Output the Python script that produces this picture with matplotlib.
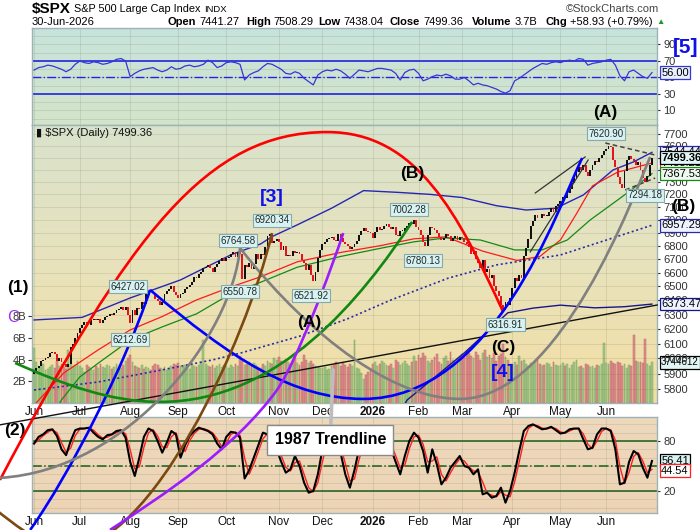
import numpy as np
import pandas as pd
import matplotlib
matplotlib.use("Agg")
import matplotlib.pyplot as plt
from matplotlib.path import Path
from matplotlib.patches import PathPatch
from matplotlib.ticker import FixedLocator, NullLocator
from matplotlib.transforms import blended_transform_factory as blend

plt.rcParams['font.family'] = ['Liberation Sans', 'DejaVu Sans']

# ---------------- data ----------------
holidays = ['2025-06-19', '2025-07-04', '2025-09-01', '2025-11-27', '2025-12-25',
            '2026-01-01', '2026-01-19', '2026-02-16', '2026-04-03', '2026-05-25',
            '2026-06-19']
days = pd.bdate_range('2025-06-02', '2026-06-30', freq='C', holidays=holidays)

first_open = 5896.0
jun25 = [5911, 5935, 5950, 5985, 5990, 6000, 6010, 6035, 6040, 6030, 5985, 6005, 5975, 5960,
         5945, 5965, 6080, 6095, 6140, 6175]
jul25 = [6205, 6227, 6250, 6230, 6225, 6263, 6270, 6259, 6268, 6244, 6263, 6280, 6290, 6305,
         6296, 6309, 6330, 6340, 6355, 6330, 6350, 6300]
aug25 = [6238, 6329, 6299, 6345, 6340, 6389, 6373, 6445, 6466, 6458, 6449, 6411, 6395, 6370,
         6388, 6446, 6466, 6481, 6502, 6460, 6440]
sep25 = [6415, 6448, 6452, 6481, 6495, 6512, 6532, 6570, 6560, 6590, 6606, 6631, 6640, 6656,
         6637, 6604, 6643, 6661, 6688, 6711, 6688]
oct25 = [6711, 6715, 6740, 6753, 6714, 6753, 6735, 6552, 6654, 6644, 6671, 6629, 6664, 6735,
         6699, 6738, 6734, 6791, 6875, 6890, 6822, 6840, 6851]
nov25 = [6832, 6771, 6796, 6720, 6728, 6720, 6760, 6746, 6750, 6737, 6690, 6672, 6617, 6656,
         6580, 6538, 6602, 6705, 6765]
dec25 = [6812, 6829, 6849, 6857, 6870, 6846, 6840, 6886, 6860, 6827, 6816, 6800, 6775, 6790,
         6810, 6834, 6880, 6909, 6932, 6910, 6905, 6896]
jan26 = [6858, 6902, 6944, 6920, 6930, 6950, 6963, 6944, 6927, 6940, 6880, 6875, 6913, 6916,
         6933, 6950, 6978, 6969, 6995, 6940]
feb26 = [6918, 6880, 6830, 6798, 6883, 6941, 6932, 6920, 6896, 6870, 6843, 6861, 6890, 6876,
         6838, 6858, 6878, 6846, 6870]
mar26 = [6860, 6830, 6816, 6790, 6740, 6760, 6700, 6672, 6632, 6690, 6606, 6625, 6560, 6581,
         6500, 6470, 6430, 6369, 6335, 6390, 6368, 6420]
apr26 = [6490, 6560, 6540, 6580, 6560, 6720, 6780, 6850, 6950, 6990, 7040, 7016, 7010, 7041,
         7030, 7032, 7064, 7090, 7061, 7110, 7120]
may26 = [7150, 7180, 7170, 7210, 7240, 7290, 7330, 7380, 7420, 7400, 7440, 7380, 7350, 7400,
         7440, 7470, 7460, 7500, 7520, 7555]
jun26 = [7570, 7600, 7590, 7480, 7420, 7340, 7280, 7250, 7390, 7480, 7510, 7490, 7470, 7440,
         7460, 7400, 7330, 7300, 7350, 7441, 7499.36]

# volume in billions
vol_jun25 = [5.1, 3.8, 3.2, 3.4, 3.6, 3.0, 3.1, 3.3, 3.5, 3.2, 3.9, 3.4, 3.6, 3.3, 3.1, 4.9, 3.6, 3.3, 3.5, 3.9]
vol_jul25 = [3.4, 3.2, 2.9, 3.5, 3.3, 3.1, 3.0, 3.4, 3.2, 3.6, 3.3, 3.2, 3.5, 3.4, 3.1, 3.3, 3.6, 3.4, 3.2, 3.5, 3.9, 4.1]
vol_aug25 = [4.4, 3.8, 3.4, 3.3, 3.2, 3.5, 3.1, 3.3, 3.2, 3.0, 3.4, 3.6, 3.5, 3.2, 3.1, 3.3, 3.0, 3.2, 3.4, 3.6, 3.5]
vol_sep25 = [3.7, 3.4, 3.3, 3.5, 3.2, 3.1, 3.6, 3.4, 3.3, 3.5, 3.8, 5.8, 3.6, 3.4, 3.3, 3.5, 3.2, 3.4, 3.6, 3.3, 3.5]
vol_oct25 = [3.4, 3.2, 3.5, 3.3, 3.6, 3.4, 4.3, 3.9, 3.5, 3.6, 3.8, 3.4, 3.7, 3.5, 3.3, 3.2, 3.6, 3.4, 3.9, 3.7, 3.6, 4.1, 4.0]
vol_nov25 = [4.2, 3.9, 3.7, 4.0, 3.8, 3.6, 3.9, 4.1, 3.7, 3.5, 3.8, 4.4, 4.0, 3.7, 3.9, 3.6, 3.4, 3.3, 3.2]
vol_dec25 = [3.2, 3.3, 3.0, 3.1, 3.4, 3.5, 3.8, 3.6, 3.4, 3.7, 3.5, 3.3, 3.6, 3.4, 5.8, 3.2, 3.1, 2.8, 2.2, 2.6, 2.9, 3.1]
vol_jan26 = [3.6, 3.8, 3.4, 3.6, 3.9, 3.7, 3.5, 3.4, 3.6, 3.2, 4.0, 3.8, 3.5, 3.7, 3.9, 3.6, 3.4, 3.8, 4.3, 3.9]
vol_feb26 = [4.4, 4.1, 4.6, 4.3, 3.9, 3.7, 4.0, 4.2, 4.5, 3.8, 3.6, 4.1, 4.3, 3.9, 4.7, 4.0, 3.8, 4.1, 4.3]
vol_mar26 = [4.5, 4.2, 4.8, 4.6, 4.3, 4.1, 4.7, 4.4, 4.0, 4.6, 4.9, 4.2, 4.4, 4.1, 4.6, 3.9, 4.3, 4.5, 5.4, 4.2, 4.0, 3.6]
vol_apr26 = [3.6, 3.8, 3.5, 4.3, 3.9, 4.0, 3.6, 3.4, 3.7, 3.5, 3.9, 4.1, 3.6, 3.4, 3.5, 3.7, 3.6, 3.3, 3.8, 3.5, 3.4]
vol_may26 = [3.5, 3.7, 3.4, 3.6, 3.2, 3.5, 3.8, 4.0, 3.3, 3.4, 3.2, 3.6, 3.5, 3.3, 3.4, 3.2, 3.5, 3.4, 3.6, 5.5]
vol_jun26 = [3.7, 3.6, 3.9, 3.7, 3.6, 3.8, 3.7, 3.4, 3.6, 3.2, 3.5, 3.4, 6.3, 3.9, 3.8, 3.8, 3.7, 5.9, 3.6, 3.4, 3.744612]

# overlay lines (trading-day index, value)
upper_x = [0, 21, 42, 64, 86, 99, 104, 115, 130, 144, 160, 173, 187, 202, 215, 228, 240, 253, 262, 270]
upper_y = [6262, 6280, 6417, 6547, 6732, 6814, 6870, 6960, 7090, 7230, 7215, 7200, 7175, 7110,
           7076, 7090, 7195, 7398, 7465, 7544.44]
red_x = [0, 1, 13, 28, 42, 56, 71, 86, 99, 115, 134, 151, 166, 180, 196, 211, 221, 230, 237, 244, 255, 270]
red_y = [5690, 5712, 5904, 6057, 6193, 6286, 6403, 6496, 6570, 6680, 6750, 6800, 6853, 6868,
         6760, 6690, 6720, 6844, 7046, 7268, 7380, 7455.21]
green_x = [10, 12, 20, 28, 42, 56, 71, 86, 99, 115, 134, 151, 166, 180, 195, 210, 222, 233, 243, 255, 262, 270]
green_y = [5680, 5730, 5878, 5968, 6124, 6214, 6305, 6447, 6530, 6640, 6720, 6780, 6830, 6860,
           6844, 6769, 6769, 6844, 6998, 7155, 7250, 7367.53]
dot_x = [0, 28, 56, 78, 90, 116, 137, 156, 181, 202, 230, 270]
dot_y = [5793, 5845, 5924, 5990, 6035, 6150, 6270, 6403, 6560, 6657, 6731, 6957.29]
lower_x = [160, 163, 188, 207, 218, 230, 245, 258, 270]
lower_y = [5650, 5729, 6037, 6312, 6345, 6366, 6347, 6355, 6373.47]

# oscillators, every second trading day
osc_step = 2
rsi = [59, 62, 63, 65, 64, 62, 60, 57, 60, 66, 70, 68, 67, 69, 68, 66, 67, 69, 72, 73,
       70, 51, 55, 58, 60, 61, 62, 59, 57, 59, 63, 60, 61, 64, 65, 63, 64, 66, 71, 68,
       62, 64, 68, 69, 68, 66, 47, 53, 56, 58, 63, 67, 66, 63, 60, 55, 54, 57, 55, 49,
       45, 41, 53, 57, 59, 58, 60, 58, 54, 49, 54, 59, 58, 57, 59, 61, 61, 60, 59, 55,
       47, 56, 59, 60, 55, 46, 48, 51, 53, 52, 54, 52, 48, 48, 50, 46, 41, 43, 41, 40,
       38, 36, 33, 31, 34, 46, 49, 53, 57, 61, 64, 67, 66, 68, 69, 68, 70, 71, 70, 73,
       72, 65, 67, 68, 69, 71, 72, 65, 52, 46, 57, 59, 55, 51, 49, 56]
stoch_k = [77, 85, 88, 93, 94, 86, 70, 63, 80, 93, 95, 95, 96, 90, 85, 82, 87, 88, 92, 93,
           84, 55, 38, 60, 85, 95, 92, 80, 66, 78, 92, 88, 60, 75, 86, 92, 96, 94, 92, 88,
           77, 70, 85, 91, 90, 84, 35, 45, 60, 75, 90, 88, 80, 70, 55, 42, 46, 62, 50, 30,
           18, 20, 40, 70, 85, 88, 82, 65, 40, 24, 45, 70, 82, 84, 78, 86, 88, 82, 70, 55,
           40, 62, 80, 90, 84, 68, 42, 70, 52, 28, 36, 48, 55, 62, 50, 48, 40, 46, 16, 18,
           12, 14, 24, 6, 20, 42, 68, 92, 98, 100, 97, 94, 95, 97, 93, 89, 90, 94, 95, 95,
           82, 70, 72, 88, 95, 95, 92, 70, 28, 30, 55, 68, 64, 48, 36, 56]

# hand-drawn arcs: cubic bezier control points (trading-day index, price)
arcs = [
    ('#ff0000', [(-14.9, 5242), (42.0, 6897), (75.6, 7716), (128.1, 7716),
                 (167.4, 7716), (185.3, 7041), (205.0, 6318)]),
    ('#0000ff', [(-1.7, 4959), (15.7, 5277), (39.8, 5957), (50.7, 6475)]),
    ('#0000ff', [(50.7, 6475), (85.7, 6003), (113.2, 5736), (143.8, 5736),
                 (200.6, 5736), (228.6, 7072), (239.5, 7497)]),
    ('#118811', [(-8.3, 5970), (13.5, 5826), (33.2, 5717), (55.1, 5717),
                 (107.5, 5717), (143.4, 6424), (165.2, 6983)]),
    ('#808080', [(-14.9, 5254), (42.0, 5301), (86.5, 6159), (90.0, 6784)]),
    ('#808080', [(90.0, 6784), (111.9, 6311), (151.2, 5736), (186.2, 5736),
                 (229.9, 5736), (262.7, 7219), (269.2, 7506)]),
    ('#7b4a12', [(-19.2, 5099), (-6.1, 4959), (4.8, 4861), (15.7, 4861),
                 (50.7, 4861), (92.2, 6091), (104.0, 6897)]),
    ('#9b1cff', [(33.2, 4959), (57.3, 5161), (87.8, 5432), (106.2, 5794),
                 (114.9, 5983), (129.8, 6620), (135.1, 6897)]),
]
trend_1987 = [(-14.9, 5573), (272.3, 6367)]
channel = [[(219.0, 7211), (240.8, 7506)], [(216.8, 6754), (242.1, 7480)]]
triangle = [[(249.6, 7623), (271.4, 7522)], [(258.3, 7235), (271.4, 7332)]]

pivots = [(250, 7620.90, 1), (267, 7294.18, -1), (164, 7002.28, 1), (170, 6780.13, -1),
          (104, 6920.34, 1), (89, 6764.58, 1), (90, 6550.78, -1), (121, 6521.92, -1),
          (41, 6427.02, 1), (42, 6212.69, -1), (206, 6316.91, -1)]
waves = [('(A)', 249.6, 7882, 'black'), ('(B)', 165.2, 7373, 'black'), ('(B)', 283.7, 7100, 'black'),
         ('[3]', 104.0, 7171, '#1010e8'), ('(A)', 120.1, 6241, 'black'), ('(C)', 205.0, 6070, 'black'),
         ('[4]', 205.0, 5904, '#1010e8'), ('(1)', -7.0, 6489, 'black')]

q_open, q_high, q_low, q_close, q_vol, q_chg, q_pct = 7441.27, 7508.29, 7438.04, 7499.36, '3.7B', 58.93, 0.79
rsi_last, k_last, d_last = 56.00, 56.41, 44.54
price_ticks = list(range(5800, 7701, 100))

# ---------------- derived ----------------
closes = np.array(jun25 + jul25 + aug25 + sep25 + oct25 + nov25 + dec25 + jan26 + feb26
                  + mar26 + apr26 + may26 + jun26, dtype=float)
volume = np.array(vol_jun25 + vol_jul25 + vol_aug25 + vol_sep25 + vol_oct25 + vol_nov25
                  + vol_dec25 + vol_jan26 + vol_feb26 + vol_mar26 + vol_apr26 + vol_may26
                  + vol_jun26)
n = len(days)
x = np.arange(n)
opens = np.r_[first_open, closes[:-1]]
up = closes >= opens
osc_x = np.arange(0, n, osc_step)
stoch_d = pd.Series(stoch_k, dtype=float).rolling(2, min_periods=1).mean().values

month_idx = [0] + [i for i in range(1, n) if days[i].month != days[i - 1].month]
month_lab = ['2026' if days[i].month == 1 else days[i].strftime('%b') for i in month_idx]

# ---------------- figure ----------------
W, H = 700, 530
fig = plt.figure(figsize=(W / 100, H / 100), dpi=100)


def rect(l, t, r, b):
    return [l / W, 1 - b / H, (r - l) / W, (b - t) / H]


ax_rsi = fig.add_axes(rect(32, 28, 657, 125))
ax_vol = fig.add_axes(rect(32, 125, 657, 403), sharex=ax_rsi)
ax = fig.add_axes(rect(32, 125, 657, 403), sharex=ax_rsi)
ax_sto = fig.add_axes(rect(32, 417, 657, 513), sharex=ax_rsi)
for a, z in ((ax_rsi, 1), (ax_sto, 1), (ax_vol, 2), (ax, 3)):
    a.set_zorder(z)
ax.patch.set_visible(False)


def shade(a, stops):
    t = np.linspace(0, 1, 200)
    cols = np.array(stops)
    pos = np.linspace(0, 1, len(stops))
    img = np.stack([np.interp(t, pos, cols[:, k]) for k in range(3)], axis=-1)[:, None, :]
    a.imshow(img, extent=[0, 1, 0, 1], transform=a.transAxes, aspect='auto', zorder=0)


shade(ax_rsi, [(0.78, 0.89, 0.86), (0.83, 0.895, 0.79)])
shade(ax_vol, [(0.85, 0.89, 0.80), (0.91, 0.89, 0.74), (0.95, 0.87, 0.64)])
shade(ax_sto, [(0.93, 0.85, 0.74), (0.93, 0.83, 0.71)])

edge = '#9db3b6'
for a in (ax_rsi, ax, ax_sto):
    for s in a.spines.values():
        s.set_color(edge)
        s.set_linewidth(1)
for s in ax_vol.spines.values():
    s.set_visible(False)

grid_kw = dict(color='#6a7050', alpha=0.16, linewidth=0.7)

# ---- volume ----
ax_vol.bar(x, volume, width=0.8, color=np.where(up, '#a3c687', '#dd8f8f'),
           edgecolor=np.where(up, '#7ca862', '#c26868'), linewidth=0.35, zorder=1)
ax_vol.set_ylim(0, 25.6)
ax_vol.yaxis.set_major_locator(FixedLocator([2, 4, 6, 8]))
ax_vol.set_yticklabels(['2B', '4B', '6B', '8B'])
ax_vol.tick_params(axis='y', left=True, length=3, labelsize=8, pad=1, colors='#333333')
ax_vol.tick_params(axis='x', bottom=False, labelbottom=False)
ax_vol.set_axisbelow(True)
ax_vol.grid(axis='x', **grid_kw)

# ---- price ----
ax.set_yscale('log')
ax.bar(x, np.maximum(np.abs(closes - opens), 4), bottom=np.minimum(opens, closes),
       width=0.82, color=np.where(up, '#111111', '#e3141c'), linewidth=0, zorder=4)
ax.plot(upper_x, upper_y, color='#2626b4', lw=1.0, zorder=3)
ax.plot(red_x, red_y, color='#ff1a1a', lw=0.9, zorder=3)
ax.plot(green_x, green_y, color='#138a13', lw=0.9, zorder=3)
ax.plot(dot_x, dot_y, color='#2a2aa8', lw=1.2, ls=(0, (1.2, 1.6)), zorder=3)
ax.plot(lower_x, lower_y, color='#16168c', lw=1.0, zorder=3)

for pair in channel:
    ax.plot(*zip(*pair), color='#333333', lw=0.9, zorder=5)
for pair in triangle:
    ax.plot(*zip(*pair), color='#444444', lw=1.1, ls=(0, (3, 2)), zorder=5)
ax.plot(*zip(*trend_1987), color='#111111', lw=1.0, zorder=5, clip_on=False)

for col, pts in arcs:
    codes = [Path.MOVETO] + [Path.CURVE4] * (len(pts) - 1)
    p = PathPatch(Path(pts, codes), transform=ax.transData, fill=False, edgecolor=col,
                  lw=1.9, zorder=6)
    ax.add_artist(p)
    p.set_clip_on(False)

ax.set_ylim(5710, 7777)
ax.yaxis.set_major_locator(FixedLocator(price_ticks))
ax.yaxis.set_minor_locator(NullLocator())
ax.set_yticklabels([str(v) for v in price_ticks])
ax.yaxis.tick_right()
ax.tick_params(axis='y', length=2.5, labelsize=8, pad=2, colors='#333333')
ax.set_axisbelow(True)
ax.grid(axis='y', **grid_kw)

for i, p, side in pivots:
    ax.annotate(f'{p:.2f}', xy=(i, p), xytext=(0, 7 if side > 0 else -9),
                textcoords='offset points', ha='center', va='center', fontsize=7,
                color='#1c2b2b', zorder=9,
                bbox=dict(boxstyle='square,pad=0.15', fc='#d9f1f1', ec='#86a9a9', lw=0.8))

for txt, i, p, col in waves:
    big = txt.startswith('[')
    ax.text(i, p, txt, ha='center', va='center', color=col, fontsize=14 if big else 12.5,
            fontweight='bold', zorder=10, clip_on=False)
ax.text(-9.2, 6276, 'C', ha='center', va='center', color='#a030f0', fontsize=12,
        zorder=10, clip_on=False)

ax.annotate('1987 Trendline', xy=(130.7, 5924), xytext=(129.4, 5480), textcoords='data',
            ha='center', va='center', fontsize=11.5, fontweight='bold', zorder=11,
            annotation_clip=False,
            bbox=dict(boxstyle='square,pad=0.45', fc='white', ec='#8a8a8a', lw=1),
            arrowprops=dict(arrowstyle='-', color='#bdbdbd', lw=2.6, shrinkA=0, shrinkB=0))

ax.text(0.006, 0.972, '\u25ae $SPX (Daily) 7499.36', transform=ax.transAxes, fontsize=8,
        va='center', ha='left', color='#111111', zorder=10)


def tag(a, y, text, ec, fc='white', bold=False, size=8):
    a.annotate(text, xy=(1, y), xycoords=blend(a.transAxes, a.transData), xytext=(3, 0),
               textcoords='offset points', ha='left', va='center', fontsize=size,
               fontweight='bold' if bold else 'normal', annotation_clip=False, zorder=12,
               bbox=dict(boxstyle='square,pad=0.12', fc=fc, ec=ec, lw=0.9))


tag(ax, upper_y[-1], f'{upper_y[-1]:.2f}', '#2626b4', '#eef3ff')
tag(ax, red_y[-1], f'{red_y[-1]:.2f}', '#ff1a1a')
tag(ax, green_y[-1], f'{green_y[-1]:.2f}', '#138a13', '#eef8ee')
tag(ax, closes[-1], f'{closes[-1]:.2f}', '#000000', '#e2f5f5', bold=True)
tag(ax, dot_y[-1], f'{dot_y[-1]:.2f}', '#2a2aa8', '#eef3ff')
tag(ax, lower_y[-1], f'{lower_y[-1]:.2f}', '#16168c', '#eef3ff')
tag(ax_vol, volume[-1], f'{volume[-1] * 1e6:.0f}', '#000000', '#e2f5f5', size=7)

# ---- RSI ----
ax_rsi.plot(osc_x, rsi, color='#3636d6', lw=0.9, zorder=3)
for lvl, ls in ((70, '-'), (30, '-'), (50, '-.')):
    ax_rsi.axhline(lvl, color='#2424e0', lw=1.2 if ls == '-' else 1.0, ls=ls, zorder=2)
ax_rsi.set_ylim(-7.6, 110)
ax_rsi.yaxis.set_major_locator(FixedLocator([10, 30, 50, 70, 90]))
ax_rsi.yaxis.set_minor_locator(FixedLocator([0, 20, 40, 60, 80, 100]))
ax_rsi.yaxis.tick_right()
ax_rsi.tick_params(axis='y', which='major', length=2.5, labelsize=8, pad=2, colors='#333333')
ax_rsi.tick_params(axis='y', which='minor', length=0)
ax_rsi.tick_params(axis='x', bottom=False, labelbottom=False)
ax_rsi.grid(axis='both', which='both', **grid_kw)
tag(ax_rsi, rsi_last, f'{rsi_last:.2f}', '#3636d6', '#e6f0ff')
ax_rsi.text(284.5, 85.8, '[5]', ha='center', va='center', color='#1010e8', fontsize=15,
            fontweight='bold', clip_on=False)

# ---- stochastics ----
ax_sto.plot(osc_x, stoch_d, color='#ff2020', lw=1.0, zorder=3)
ax_sto.plot(osc_x, stoch_k, color='#000000', lw=1.5, zorder=4)
for lvl, ls in ((80, '-'), (20, '-'), (50, '-.')):
    ax_sto.axhline(lvl, color='#1a5e1a', lw=1.1, ls=ls, zorder=2)
ax_sto.set_ylim(-6.4, 108.8)
ax_sto.yaxis.set_major_locator(FixedLocator([20, 80]))
ax_sto.yaxis.set_minor_locator(FixedLocator(list(range(0, 110, 10))))
ax_sto.yaxis.tick_right()
ax_sto.tick_params(axis='y', which='major', length=2.5, labelsize=8, pad=2, colors='#333333')
ax_sto.tick_params(axis='y', which='minor', length=0)
ax_sto.grid(axis='both', which='both', **grid_kw)
tag(ax_sto, k_last, f'{k_last:.2f}', '#000000', '#d8f3f3')
tag(ax_sto, d_last, f'{d_last:.2f}', '#ff2020', 'white')
ax_sto.text(-8.3, 93.2, '(2)', ha='center', va='center', fontsize=12.5, fontweight='bold',
            clip_on=False)

# ---- x axis ----
ax.xaxis.set_major_locator(FixedLocator(month_idx))
ax.set_xticklabels(month_lab)
for a in (ax, ax_sto):
    a.tick_params(axis='x', length=0, pad=2, labelsize=8.5, labelbottom=True, colors='#111111')
    for t in a.get_xticklabels():
        if t.get_text() == '2026':
            t.set_fontweight('bold')
ax_rsi.set_xlim(-0.9, 272.2)

# ---- header ----
rend = fig.canvas.get_renderer()


def ftext(px, py, s, **kw):
    return fig.text(px / W, 1 - py / H, s, va='center', **kw)


def after(t, gap):
    return t.get_window_extent(rend).x1 + gap


t = ftext(32, 9, '$SPX', fontsize=11, fontweight='bold')
t = ftext(after(t, 3), 9, 'S&P 500 Large Cap Index', fontsize=7.8)
ftext(after(t, 4), 9, 'INDX', fontsize=6.8)
ftext(659, 9, '\u00a9StockCharts.com', fontsize=8, color='#444444', ha='right')
ftext(32, 22, days[-1].strftime('%d-%b-%Y'), fontsize=8)
header = [('Open', f'{q_open:.2f}', 168), ('High', f'{q_high:.2f}', 246),
          ('Low', f'{q_low:.2f}', 318), ('Close', f'{q_close:.2f}', 390),
          ('Volume', q_vol, 472), ('Chg', f'+{q_chg:.2f} (+{q_pct:.2f}%)', 545)]
for lab, val, px in header:
    t = ftext(px, 22, lab, fontsize=8, fontweight='bold')
    t = ftext(after(t, 3), 22, val, fontsize=8)
ftext(after(t, 4), 22, '\u25b2', fontsize=6, color='#1a9a1a')

fig.savefig('out.png', dpi=100)
